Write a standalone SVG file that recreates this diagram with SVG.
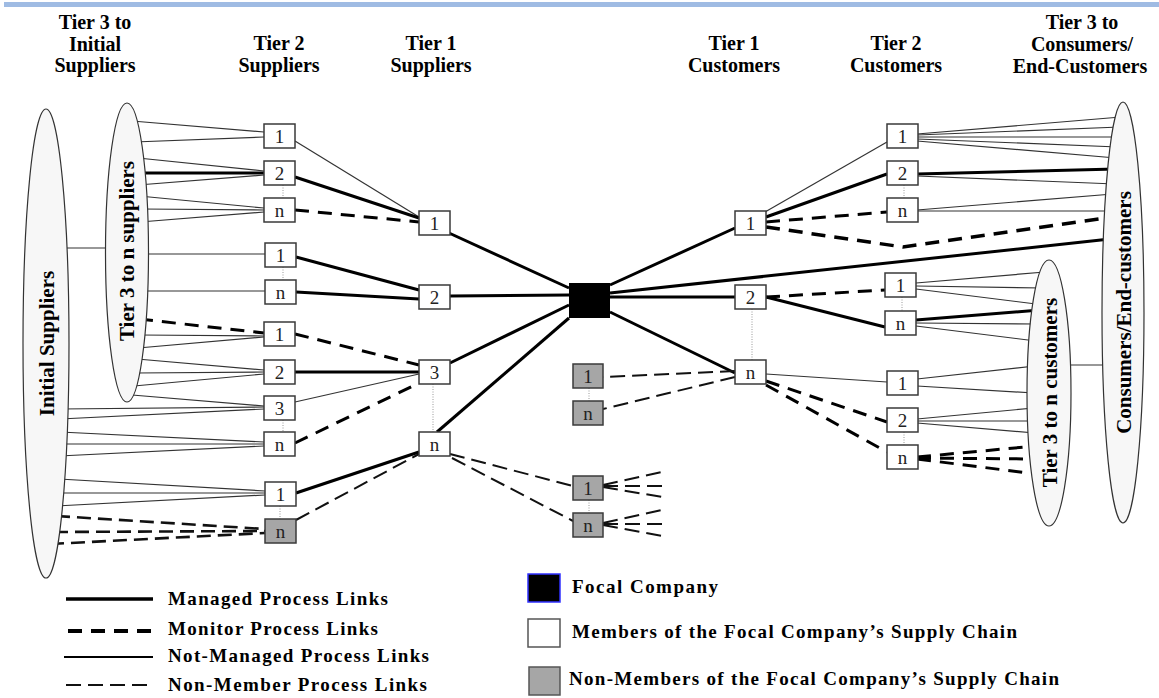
<svg xmlns="http://www.w3.org/2000/svg" width="1159" height="698" viewBox="0 0 1159 698">
<style>
.m{stroke:#000;stroke-width:3;fill:none;stroke-linecap:butt}
.mo{stroke:#000;stroke-width:3;stroke-dasharray:14 9;fill:none}
.nm{stroke:#333;stroke-width:1.2;fill:none}
.nb{stroke:#111;stroke-width:2;stroke-dasharray:15 7;fill:none}
.nbt{stroke:#111;stroke-width:2.6;stroke-dasharray:14 7;fill:none}
.dot{stroke:#999;stroke-width:1;stroke-dasharray:1 1.5}
.box{fill:#fff;stroke:#3a3a3a;stroke-width:1.5}
.gbox{fill:#a6a6a6;stroke:#3a3a3a;stroke-width:1.5}
.ell{fill:#f7f7f7;stroke:#333;stroke-width:1.2}
.lbl{font-family:"Liberation Serif","Times New Roman",serif;font-size:19px;fill:#222;text-anchor:middle}
.hdr{font-family:"Liberation Serif","Times New Roman",serif;font-size:20px;font-weight:bold;fill:#000;text-anchor:middle}
.elt{font-family:"Liberation Serif","Times New Roman",serif;font-size:21px;font-weight:bold;fill:#000;text-anchor:middle}
.leg{font-family:"Liberation Serif","Times New Roman",serif;font-size:19px;font-weight:bold;fill:#000}
</style>
<rect x="4" y="2" width="1155" height="5" fill="#9fbbe3"/>

<g id="headers">
<text class="hdr" x="95" y="29">Tier 3 to</text>
<text class="hdr" x="95" y="51">Initial</text>
<text class="hdr" x="95" y="72">Suppliers</text>
<text class="hdr" x="279" y="50">Tier 2</text>
<text class="hdr" x="279" y="72">Suppliers</text>
<text class="hdr" x="431" y="50">Tier 1</text>
<text class="hdr" x="431" y="72">Suppliers</text>
<text class="hdr" x="734" y="50">Tier 1</text>
<text class="hdr" x="734" y="72">Customers</text>
<text class="hdr" x="896" y="50">Tier 2</text>
<text class="hdr" x="896" y="72">Customers</text>
<text class="hdr" x="1082" y="29">Tier 3 to</text>
<text class="hdr" x="1082" y="51">Consumers/</text>
<text class="hdr" x="1080" y="73">End-Customers</text>
</g>

<g id="connectors">
<!-- ellipse to ellipse -->
<line class="nm" x1="60" y1="248" x2="112" y2="248"/>
<line class="nm" x1="1065" y1="365" x2="1108" y2="365"/>
<!-- Tier3 suppliers to Tier2 -->
<line class="nm" x1="132" y1="121" x2="264" y2="132"/>
<line class="nm" x1="134" y1="142" x2="264" y2="137"/>
<line class="nm" x1="138" y1="158" x2="264" y2="171"/>
<line class="m" x1="138" y1="173" x2="264" y2="173"/>
<line class="nm" x1="138" y1="185" x2="264" y2="175"/>
<line class="nm" x1="139" y1="196" x2="264" y2="208"/>
<line class="nm" x1="140" y1="209" x2="264" y2="210"/>
<line class="nm" x1="140" y1="222" x2="264" y2="212"/>
<line class="nm" x1="141" y1="254" x2="265" y2="254"/>
<line class="nm" x1="141" y1="291" x2="265" y2="291"/>
<line class="mo" x1="139" y1="319" x2="264" y2="333"/>
<line class="nm" x1="139" y1="335" x2="264" y2="336"/>
<line class="nm" x1="138" y1="348" x2="264" y2="337"/>
<line class="nm" x1="137" y1="359" x2="264" y2="370"/>
<line class="nm" x1="135" y1="373" x2="264" y2="372"/>
<line class="nm" x1="134" y1="386" x2="264" y2="374"/>
<line class="nm" x1="132" y1="395" x2="264" y2="406"/>
<!-- Initial suppliers to Tier2 -->
<line class="nm" x1="60" y1="409" x2="264" y2="407"/>
<line class="nm" x1="60" y1="419" x2="264" y2="409"/>
<line class="nm" x1="60" y1="432" x2="264" y2="442"/>
<line class="nm" x1="60" y1="444" x2="264" y2="444"/>
<line class="nm" x1="59" y1="456" x2="264" y2="446"/>
<line class="nm" x1="59" y1="479" x2="265" y2="491"/>
<line class="nm" x1="58" y1="493" x2="265" y2="493"/>
<line class="nm" x1="56" y1="506" x2="265" y2="495"/>
<line class="nbt" x1="56" y1="516" x2="265" y2="529"/>
<line class="nbt" x1="54" y1="532" x2="265" y2="531"/>
<line class="nbt" x1="50" y1="544" x2="265" y2="533"/>
<!-- Tier2 suppliers to Tier1 suppliers -->
<line class="nm" x1="295" y1="141" x2="419" y2="217"/>
<line class="m" x1="295" y1="177" x2="419" y2="218"/>
<line class="mo" x1="295" y1="210" x2="419" y2="222"/>
<line class="m" x1="296" y1="257" x2="419" y2="290"/>
<line class="m" x1="296" y1="292" x2="419" y2="299"/>
<line class="mo" x1="295" y1="334" x2="419" y2="365"/>
<line class="m" x1="295" y1="372" x2="419" y2="372"/>
<line class="nm" x1="295" y1="402" x2="419" y2="374"/>
<line class="mo" x1="295" y1="443" x2="419" y2="383"/>
<line class="m" x1="296" y1="493" x2="419" y2="452"/>
<line class="nb" x1="296" y1="520" x2="419" y2="454"/>
<!-- Tier1 suppliers to focal -->
<line class="m" x1="449" y1="233" x2="569" y2="288"/>
<line class="m" x1="450" y1="296" x2="569" y2="295"/>
<line class="m" x1="450" y1="363" x2="569" y2="305"/>
<line class="m" x1="437" y1="432" x2="569" y2="318"/>
<!-- focal to right -->
<line class="m" x1="610" y1="285" x2="735" y2="228"/>
<line class="m" x1="610" y1="293" x2="1110" y2="239"/>
<line class="m" x1="610" y1="297" x2="735" y2="297"/>
<line class="m" x1="610" y1="312" x2="735" y2="373"/>
<!-- non-member links -->
<line class="nb" x1="450" y1="454" x2="573" y2="486"/>
<line class="nb" x1="452" y1="458" x2="573" y2="521"/>
<line class="nb" x1="603" y1="485" x2="662" y2="472"/>
<line class="nb" x1="603" y1="486" x2="662" y2="486"/>
<line class="nb" x1="603" y1="487" x2="662" y2="497"/>
<line class="nb" x1="603" y1="523" x2="662" y2="510"/>
<line class="nb" x1="603" y1="524" x2="662" y2="524"/>
<line class="nb" x1="603" y1="525" x2="662" y2="536"/>
<line class="nb" x1="735" y1="371" x2="603" y2="377"/>
<line class="nb" x1="735" y1="377" x2="603" y2="409"/>
<!-- Tier1 customers to Tier2 customers -->
<line class="nm" x1="765" y1="212" x2="887" y2="142"/>
<line class="m" x1="766" y1="217" x2="887" y2="174"/>
<line class="mo" x1="766" y1="222" x2="887" y2="212"/>
<polyline class="mo" style="stroke-width:3.5" points="766,227 903,247 1112,217"/>
<line class="mo" x1="766" y1="297" x2="885" y2="290"/>
<line class="m" x1="766" y1="297" x2="885" y2="327"/>
<line class="nm" x1="766" y1="374" x2="887" y2="382"/>
<line class="mo" x1="766" y1="381" x2="887" y2="422"/>
<line class="mo" x1="766" y1="385" x2="887" y2="452"/>
<!-- Tier2 customers to consumers -->
<line class="nm" x1="917" y1="134" x2="1121" y2="117"/>
<line class="nm" x1="917" y1="135" x2="1120" y2="127"/>
<line class="nm" x1="917" y1="137" x2="1119" y2="137"/>
<line class="nm" x1="917" y1="139" x2="1118" y2="147"/>
<line class="nm" x1="917" y1="141" x2="1116" y2="158"/>
<line class="m" x1="917" y1="174" x2="1116" y2="169"/>
<line class="nm" x1="917" y1="176" x2="1115" y2="184"/>
<line class="nm" x1="917" y1="210" x2="1113" y2="194"/>
<line class="nm" x1="917" y1="211" x2="1111" y2="211"/>
<!-- Tier2 customers to tier3 customers -->
<line class="nm" x1="916" y1="283" x2="1045" y2="272"/>
<line class="nm" x1="916" y1="286" x2="1043" y2="288"/>
<line class="nm" x1="916" y1="289" x2="1036" y2="304"/>
<line class="m" x1="916" y1="320" x2="1040" y2="310"/>
<line class="nm" x1="916" y1="323" x2="1037" y2="324"/>
<line class="nm" x1="916" y1="326" x2="1036" y2="341"/>
<line class="nm" x1="917" y1="379" x2="1035" y2="366"/>
<line class="nm" x1="917" y1="386" x2="1034" y2="393"/>
<line class="nm" x1="917" y1="419" x2="1034" y2="408"/>
<line class="nm" x1="917" y1="421" x2="1035" y2="421"/>
<line class="nm" x1="917" y1="423" x2="1035" y2="433"/>
<line class="mo" x1="917" y1="457" x2="1036" y2="446"/>
<line class="mo" x1="917" y1="458" x2="1036" y2="459"/>
<line class="mo" x1="917" y1="459" x2="1036" y2="474"/>
<!-- dotted stack lines -->
<line class="dot" x1="283" y1="185" x2="283" y2="198"/>
<line class="dot" x1="283" y1="267" x2="283" y2="280"/>
<line class="dot" x1="283" y1="420" x2="283" y2="432"/>
<line class="dot" x1="280" y1="506" x2="280" y2="519"/>
<line class="dot" x1="433" y1="384" x2="433" y2="432"/>
<line class="dot" x1="752" y1="309" x2="752" y2="360"/>
<line class="dot" x1="589" y1="388" x2="589" y2="401"/>
<line class="dot" x1="589" y1="500" x2="589" y2="513"/>
<line class="dot" x1="904" y1="185" x2="904" y2="198"/>
<line class="dot" x1="902" y1="297" x2="902" y2="311"/>
<line class="dot" x1="904" y1="432" x2="904" y2="445"/>
</g>

<g id="initial-suppliers">
<ellipse class="ell" cx="46" cy="343.5" rx="23" ry="234.5"/>
<text class="elt" transform="translate(53.5,343.5) rotate(-90)">Initial Suppliers</text>
</g>
<g id="tier3-suppliers">
<ellipse class="ell" cx="127" cy="252.5" rx="21.5" ry="149.5"/>
<text class="elt" transform="translate(134,251) rotate(-90)">Tier 3 to n suppliers</text>
</g>
<g id="consumers">
<ellipse class="ell" cx="1123" cy="312.5" rx="21" ry="210.5"/>
<text class="elt" transform="translate(1130.5,312.5) rotate(-90)">Consumers/End-customers</text>
</g>
<g id="tier3-customers">
<ellipse class="ell" cx="1049" cy="393" rx="22" ry="133"/>
<text class="elt" transform="translate(1056.5,392.5) rotate(-90)">Tier 3 to n customers</text>
</g>

<g id="s2-1"><rect class="box" x="264" y="124" width="31" height="24"/><text class="lbl" x="279.5" y="142.5">1</text></g>
<g id="s2-2"><rect class="box" x="264" y="161" width="31" height="24"/><text class="lbl" x="279.5" y="179.5">2</text></g>
<g id="s2-n"><rect class="box" x="264" y="198" width="31" height="24"/><text class="lbl" x="279.5" y="216.5">n</text></g>
<g id="s2b-1"><rect class="box" x="265" y="243" width="31" height="24"/><text class="lbl" x="280.5" y="261.5">1</text></g>
<g id="s2b-n"><rect class="box" x="265" y="280" width="31" height="24"/><text class="lbl" x="280.5" y="298.5">n</text></g>
<g id="s2c-1"><rect class="box" x="264" y="322" width="31" height="24"/><text class="lbl" x="279.5" y="340.5">1</text></g>
<g id="s2c-2"><rect class="box" x="264" y="360" width="31" height="24"/><text class="lbl" x="279.5" y="378.5">2</text></g>
<g id="s2c-3"><rect class="box" x="264" y="396" width="31" height="24"/><text class="lbl" x="279.5" y="414.5">3</text></g>
<g id="s2c-n"><rect class="box" x="264" y="432" width="31" height="24"/><text class="lbl" x="279.5" y="450.5">n</text></g>
<g id="s2d-1"><rect class="box" x="265" y="482" width="31" height="24"/><text class="lbl" x="280.5" y="500.5">1</text></g>
<g id="s2d-n"><rect class="gbox" x="265" y="519" width="31" height="24"/><text class="lbl" x="280.5" y="537.5">n</text></g>

<g id="s1-1"><rect class="box" x="419" y="211" width="31" height="24"/><text class="lbl" x="434.5" y="229.5">1</text></g>
<g id="s1-2"><rect class="box" x="419" y="285" width="31" height="24"/><text class="lbl" x="434.5" y="303.5">2</text></g>
<g id="s1-3"><rect class="box" x="419" y="360" width="31" height="24"/><text class="lbl" x="434.5" y="378.5">3</text></g>
<g id="s1-n"><rect class="box" x="419" y="432" width="31" height="24"/><text class="lbl" x="434.5" y="450.5">n</text></g>

<g id="focal"><rect x="569" y="283" width="41" height="35" fill="#000"/></g>

<g id="nm-1"><rect class="gbox" x="573" y="364" width="30" height="24"/><text class="lbl" x="588" y="382.5">1</text></g>
<g id="nm-n"><rect class="gbox" x="573" y="401" width="30" height="24"/><text class="lbl" x="588" y="419.5">n</text></g>
<g id="nm2-1"><rect class="gbox" x="573" y="476" width="30" height="24"/><text class="lbl" x="588" y="494.5">1</text></g>
<g id="nm2-n"><rect class="gbox" x="573" y="513" width="30" height="24"/><text class="lbl" x="588" y="531.5">n</text></g>

<g id="c1-1"><rect class="box" x="735" y="211" width="31" height="24"/><text class="lbl" x="750.5" y="229.5">1</text></g>
<g id="c1-2"><rect class="box" x="735" y="285" width="31" height="24"/><text class="lbl" x="750.5" y="303.5">2</text></g>
<g id="c1-n"><rect class="box" x="735" y="360" width="31" height="24"/><text class="lbl" x="750.5" y="378.5">n</text></g>

<g id="c2-1"><rect class="box" x="887" y="124" width="31" height="24"/><text class="lbl" x="902.5" y="142.5">1</text></g>
<g id="c2-2"><rect class="box" x="887" y="161" width="31" height="24"/><text class="lbl" x="902.5" y="179.5">2</text></g>
<g id="c2-n"><rect class="box" x="887" y="198" width="31" height="24"/><text class="lbl" x="902.5" y="216.5">n</text></g>
<g id="c2b-1"><rect class="box" x="885" y="273" width="31" height="24"/><text class="lbl" x="900.5" y="291.5">1</text></g>
<g id="c2b-n"><rect class="box" x="885" y="311" width="31" height="24"/><text class="lbl" x="900.5" y="329.5">n</text></g>
<g id="c2c-1"><rect class="box" x="887" y="371" width="31" height="24"/><text class="lbl" x="902.5" y="389.5">1</text></g>
<g id="c2c-2"><rect class="box" x="887" y="408" width="31" height="24"/><text class="lbl" x="902.5" y="426.5">2</text></g>
<g id="c2c-n"><rect class="box" x="887" y="445" width="31" height="24"/><text class="lbl" x="902.5" y="463.5">n</text></g>

<g id="legend">
<line class="m" x1="66" y1="599" x2="153" y2="599" style="stroke-width:3.5"/>
<line class="mo" x1="68" y1="631" x2="153" y2="631" style="stroke-width:4"/>
<line class="nm" x1="64" y1="657" x2="153" y2="657" style="stroke:#000;stroke-width:2"/>
<line class="nb" x1="66" y1="685" x2="153" y2="685"/>
<text class="leg" x="168" y="605" textLength="220" lengthAdjust="spacing">Managed Process Links</text>
<text class="leg" x="168" y="635" textLength="210" lengthAdjust="spacing">Monitor Process Links</text>
<text class="leg" x="168" y="662" textLength="261" lengthAdjust="spacing">Not-Managed Process Links</text>
<text class="leg" x="168" y="691" textLength="259" lengthAdjust="spacing">Non-Member Process Links</text>
<rect x="528" y="574" width="32" height="28" fill="#000" stroke="#3030ff" stroke-width="1.5"/>
<rect x="528" y="619" width="32" height="28" fill="#fff" stroke="#555" stroke-width="1.5"/>
<rect x="529" y="667" width="31" height="28" fill="#a6a6a6" stroke="#555" stroke-width="1.5"/>
<text class="leg" x="572" y="593" textLength="146" lengthAdjust="spacing">Focal Company</text>
<text class="leg" x="572" y="638" textLength="445" lengthAdjust="spacing">Members of the Focal Company’s Supply Chain</text>
<text class="leg" x="569" y="685" textLength="490" lengthAdjust="spacing">Non-Members of the Focal Company’s Supply Chain</text>
</g>
</svg>
